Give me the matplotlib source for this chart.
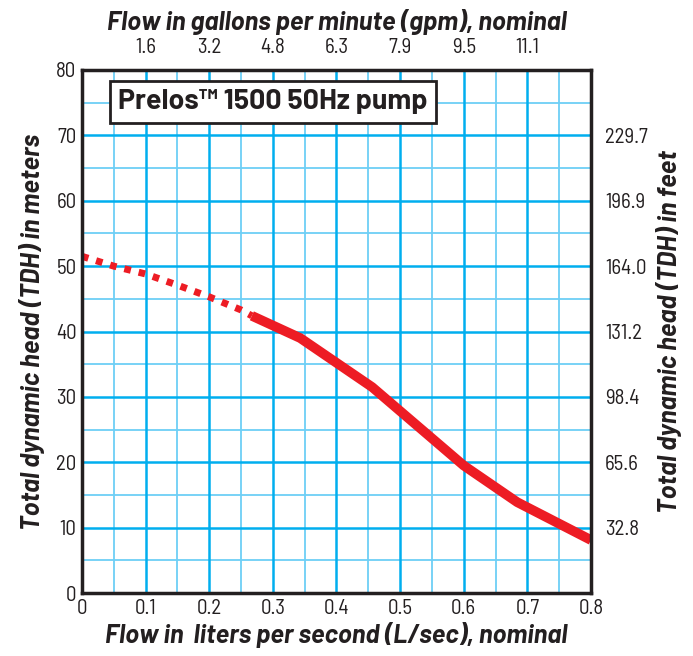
import matplotlib
matplotlib.use("Agg")
import matplotlib.pyplot as plt

# pump curve (L/sec vs meters)
flow_dotted = [0.0, 0.05, 0.10, 0.15, 0.20, 0.25, 0.267]
head_dotted = [51.5, 50.0, 48.8, 47.1, 45.3, 43.3, 42.4]
flow_solid = [0.267, 0.343, 0.456, 0.60, 0.684, 0.80]
head_solid = [42.4, 39.0, 31.5, 19.5, 13.9, 8.1]

x_ticks = [0, 0.1, 0.2, 0.3, 0.4, 0.5, 0.6, 0.7, 0.8]
x_labels = ["0", "0.1", "0.2", "0.3", "0.4", "0.5", "0.6", "0.7", "0.8"]
gpm_ticks = [0.1, 0.2, 0.3, 0.4, 0.5, 0.6, 0.7]
gpm_labels = ["1.6", "3.2", "4.8", "6.3", "7.9", "9.5", "11.1"]
y_ticks = [0, 10, 20, 30, 40, 50, 60, 70, 80]
ft_ticks = [10, 20, 30, 40, 50, 60, 70]
ft_labels = ["32.8", "65.6", "98.4", "131.2", "164.0", "196.9", "229.7"]

title = "Prelos\u2122 1500 50Hz pump"

plt.rcParams['font.family'] = ['Barlow Semi Condensed', 'DejaVu Sans']
plt.rcParams['lines.scale_dashes'] = False
bold_font = ['Barlow', 'DejaVu Sans']

fig = plt.figure(figsize=(6.93, 6.56), dpi=100)
ax = fig.add_axes([0.1183, 0.096, 0.7345, 0.7973])

major_c = '#00aeef'
minor_c = '#6dcff6'
for v in [0.05, 0.15, 0.25, 0.35, 0.45, 0.55, 0.65, 0.75]:
    ax.axvline(v, color=minor_c, lw=1.3, zorder=1)
for v in [5, 15, 25, 35, 45, 55, 65, 75]:
    ax.axhline(v, color=minor_c, lw=1.3, zorder=1)
for v in x_ticks[1:-1]:
    ax.axvline(v, color=major_c, lw=1.8, zorder=1)
for v in y_ticks[1:-1]:
    ax.axhline(v, color=major_c, lw=1.8, zorder=1)

ax.plot(flow_dotted, head_dotted, color='#ed1c24', lw=5, dashes=(4.8, 5.8),
        solid_capstyle='butt', dash_capstyle='butt', zorder=3)
ax.plot(flow_solid, head_solid, color='#ed1c24', lw=7, solid_capstyle='butt',
        solid_joinstyle='round', zorder=3)

ax.set_xlim(0, 0.8)
ax.set_ylim(0, 80)
ax.set_xticks(x_ticks)
ax.set_xticklabels(x_labels)
ax.set_yticks(y_ticks)
ax.tick_params(length=0, labelsize=15, pad=4, labelcolor='#231f20')
for s in ax.spines.values():
    s.set_linewidth(2.5)
    s.set_color('#231f20')
    s.set_zorder(4)

lab = dict(fontsize=18.5, fontweight='bold', style='italic', color='#231f20',
           family=bold_font)
ax.set_xlabel("Flow in  liters per second (L/sec), nominal", labelpad=3, **lab)
ax.set_ylabel("Total dynamic head (TDH) in meters", labelpad=8, **lab)

ax_top = ax.twiny()
ax_top.set_xlim(0, 0.8)
ax_top.set_xticks(gpm_ticks)
ax_top.set_xticklabels(gpm_labels)
ax_top.tick_params(length=0, labelsize=15, pad=9, labelcolor='#231f20')
ax_top.set_xlabel("Flow in gallons per minute (gpm), nominal", labelpad=6, **lab)

ax_right = ax.twinx()
ax_right.set_ylim(0, 80)
ax_right.set_yticks(ft_ticks)
ax_right.set_yticklabels(ft_labels)
ax_right.tick_params(length=0, labelsize=15, pad=10, labelcolor='#231f20')
ax_right.set_ylabel("Total dynamic head (TDH) in feet", labelpad=6, **lab)
for a in (ax_top, ax_right):
    for s in a.spines.values():
        s.set_visible(False)

ax.text(0.071, 0.939, title, transform=ax.transAxes, fontsize=20.5,
        fontweight='bold', color='#231f20', va='center', ha='left', zorder=5,
        family=bold_font,
        bbox=dict(boxstyle='square,pad=0.3', fc='white', ec='#231f20', lw=2))

fig.savefig("out.png", dpi=100)
